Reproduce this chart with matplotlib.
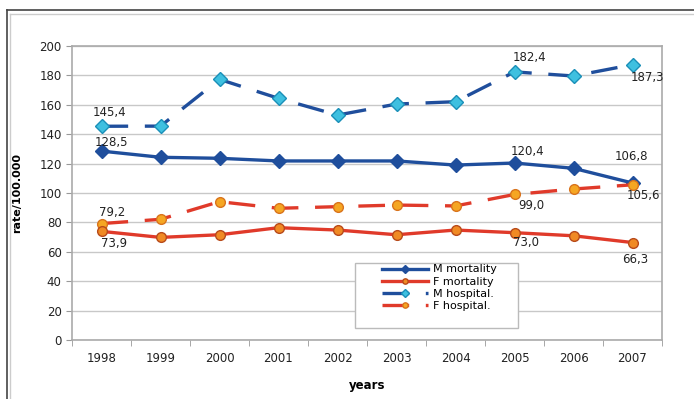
import numpy as np
import matplotlib.pyplot as plt
from matplotlib.lines import Line2D
from matplotlib.patches import Rectangle

# anos e taxas por 100.000
anos = ['1998', '1999', '2000', '2001', '2002', '2003', '2004', '2005', '2006', '2007']
m_mortalidade = [128.5, 124.3, 123.6, 121.8, 121.8, 121.8, 119.0, 120.4, 116.8, 106.8]
f_mortalidade = [73.9, 69.8, 71.6, 76.4, 74.8, 71.6, 74.8, 73.0, 70.9, 66.3]
m_hospital = [145.4, 145.5, 177.3, 164.4, 153.0, 160.5, 162.1, 182.4, 179.6, 187.3]
f_hospital = [79.2, 82.1, 94.1, 89.6, 90.7, 91.8, 91.2, 99.0, 102.7, 105.6]

x = np.arange(len(anos))

fig = plt.figure(figsize=(6.94, 3.99), dpi=100)
ax = fig.add_axes([72/694, 1 - 340/399, 590/694, 294/399])

azul = '#1f4e9c'
vermelho = '#e03a2a'
laranja = '#f5a623'
ciano = '#3ec0e0'

ax.plot(x, m_hospital, color=azul, lw=2.4, dashes=(8, 5), marker='D', ms=7,
        mfc=ciano, mec='#1a8fb8', label='M hospital.', zorder=3)
ax.plot(x, m_mortalidade, color=azul, lw=2.4, marker='D', ms=7,
        mfc=azul, mec=azul, label='M mortality', zorder=3)
ax.plot(x, f_hospital, color=vermelho, lw=2.4, dashes=(8, 5), marker='o', ms=7,
        mfc=laranja, mec='#d9731c', label='F hospital.', zorder=3)
ax.plot(x, f_mortalidade, color=vermelho, lw=2.4, marker='o', ms=7,
        mfc='#f08a24', mec='#b84a1a', label='F mortality', zorder=3)

# rótulos de valores
def rotulo(serie, i, dx, dy):
    ax.annotate(f'{serie[i]:.1f}'.replace('.', ','), (x[i], serie[i]),
                xytext=(dx, dy), textcoords='offset points',
                ha='center', va='center', fontsize=8.5, color='#222222')

rotulo(m_hospital, 0, 5.5, 10)
rotulo(m_mortalidade, 0, 7.5, 6)
rotulo(f_hospital, 0, 8, 8)
rotulo(f_mortalidade, 0, 9, -9)
rotulo(m_hospital, 7, 11, 10)
rotulo(m_mortalidade, 7, 9, 8)
rotulo(f_hospital, 7, 12, -8)
rotulo(f_mortalidade, 7, 8, -7)
rotulo(m_hospital, 9, 11, -9.5)
rotulo(m_mortalidade, 9, -1, 19)
rotulo(f_hospital, 9, 8, -8)
rotulo(f_mortalidade, 9, 2, -12.5)

ax.set_xlim(-0.5, 9.5)
ax.set_ylim(0, 200)
ax.set_yticks(np.arange(0, 201, 20))
ax.set_xticks(x)
ax.set_xticklabels(anos)
ax.set_xticks(np.arange(-0.5, 10, 1), minor=True)
ax.tick_params(axis='x', which='major', length=0, pad=9, labelsize=8.5, colors='#222222')
ax.tick_params(axis='x', which='minor', length=4, color='#999999')
ax.tick_params(axis='y', length=4, color='#999999', labelsize=8.5, colors='#222222')
ax.grid(axis='y', color='#c8c8c8', lw=1)
ax.set_axisbelow(True)
for s in ax.spines.values():
    s.set_color('#aaaaaa')
    s.set_linewidth(1.2)

ax.set_ylabel('rate/100.000', fontsize=8, fontweight='bold', labelpad=12)
ax.set_xlabel('years', fontsize=8.5, fontweight='bold', labelpad=10)

# legenda na ordem original, com caixa desenhada à parte
h, l = ax.get_legend_handles_labels()
ordem = [1, 3, 0, 2]
leg = ax.legend([h[i] for i in ordem], [l[i] for i in ordem], loc='upper left',
                bbox_to_anchor=(0.525, 0.257), fontsize=8, frameon=False,
                handlelength=4.2, handletextpad=0.4, labelspacing=0.2,
                borderpad=0, borderaxespad=0, markerscale=0.55)
leg.set_zorder(5)
ax.add_patch(Rectangle((0.4797, 0.0408), 0.2763, 0.221, transform=ax.transAxes,
                       facecolor='white', edgecolor='#bbbbbb', lw=1, zorder=4))

# moldura da figura
fig.add_artist(Line2D([7/694, 7/694], [0, 1 - 10/399], color='#444444', lw=1.2))
fig.add_artist(Line2D([7/694, 1], [1 - 10/399, 1 - 10/399], color='#444444', lw=1.2))
fig.add_artist(Line2D([10/694, 10/694], [0, 1 - 14/399], color='#cccccc', lw=1))
fig.add_artist(Line2D([10/694, 1], [1 - 14/399, 1 - 14/399], color='#cccccc', lw=1))

fig.savefig('out.png', dpi=100)
